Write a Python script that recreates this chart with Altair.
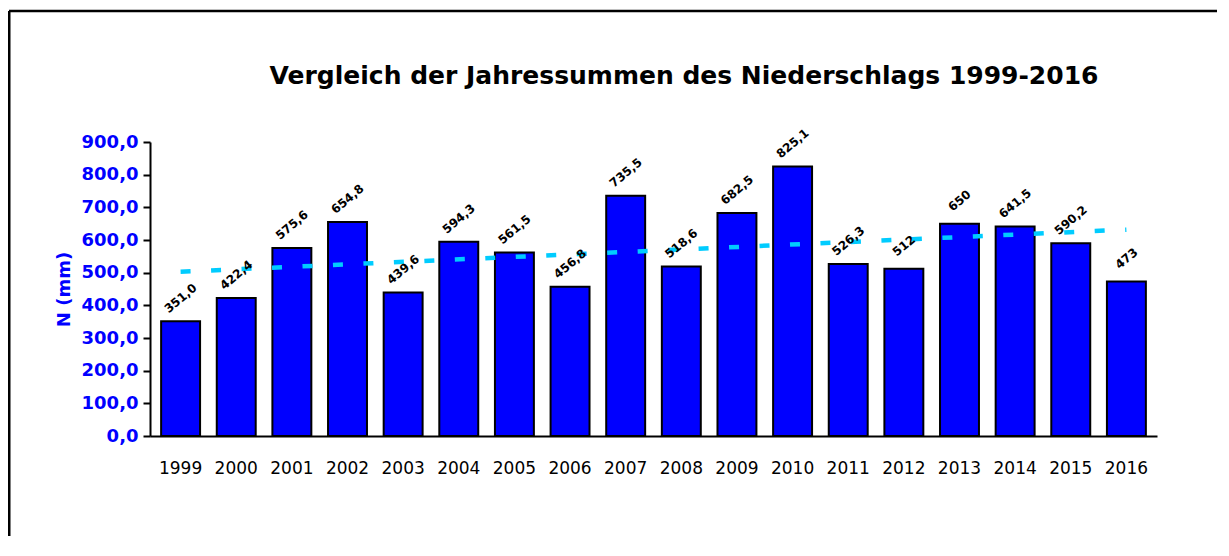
import altair as alt
import pandas as pd

years = [1999, 2000, 2001, 2002, 2003, 2004, 2005, 2006, 2007, 2008,
         2009, 2010, 2011, 2012, 2013, 2014, 2015, 2016]
values = [351.0, 422.4, 575.6, 654.8, 439.6, 594.3, 561.5, 456.8, 735.5, 518.6,
          682.5, 825.1, 526.3, 512.0, 650.0, 641.5, 590.2, 473.0]
labels = ["351,0", "422,4", "575,6", "654,8", "439,6", "594,3", "561,5", "456,8", "735,5",
          "518,6", "682,5", "825,1", "526,3", "512", "650", "641,5", "590,2", "473"]
y_ticks = [0, 100, 200, 300, 400, 500, 600, 700, 800, 900]

title_text = "Vergleich der Jahressummen des Niederschlags 1999-2016"
y_title = "N (mm)"

df = pd.DataFrame({"year": years, "value": values, "label": labels})
dummy = pd.DataFrame({"d": [0]})

BLUE = "#0000FF"
W, H = 1007, 294

x_enc = alt.X("year:O",
              scale=alt.Scale(paddingInner=0.3, paddingOuter=0.2),
              axis=alt.Axis(title=None, labelAngle=0, ticks=False,
                            domainColor="black", domainWidth=2,
                            labelFont="DejaVu Sans", labelFontSize=17,
                            labelColor="black", labelPadding=24))
y_enc = alt.Y("value:Q",
              scale=alt.Scale(domain=[0, 900], nice=False),
              axis=alt.Axis(title=y_title, values=y_ticks, labelOverlap=False,
                            labelExpr="replace(format(datum.value, '.1f'), '.', ',')",
                            grid=False, domainColor="black", domainWidth=2,
                            tickColor="black", tickWidth=2, tickSize=7,
                            labelFont="DejaVu Sans", labelFontSize=18,
                            labelFontWeight="bold", labelColor=BLUE, labelPadding=5,
                            titleFont="DejaVu Sans", titleFontSize=18,
                            titleFontWeight="bold", titleColor=BLUE, titlePadding=8))

base = alt.Chart(df)

bars = base.mark_bar(color=BLUE, stroke="black", strokeWidth=2).encode(x=x_enc, y=y_enc)

trend = base.transform_regression("year", "value").mark_line(
    color="#00CCFF", strokeWidth=4.5, strokeDash=[10, 20.5], strokeCap="butt"
).encode(x=x_enc, y=y_enc)

texts = base.mark_text(
    angle=320, align="center", baseline="middle", dx=14.8, dy=-17.6,
    font="DejaVu Sans", fontSize=12, fontWeight="bold", color="black"
).encode(x=x_enc, y=y_enc, text="label:N")

title = alt.Chart(dummy).mark_text(
    text=title_text, font="DejaVu Sans", fontSize=25, fontWeight="bold",
    align="center", baseline="alphabetic", color="black"
).encode(x=alt.value(534), y=alt.value(-58))

border_top = alt.Chart(dummy).mark_rule(color="black", strokeWidth=2.5).encode(
    x=alt.value(-141), x2=alt.value(1100), y=alt.value(-131))
border_left = alt.Chart(dummy).mark_rule(color="black", strokeWidth=3).encode(
    x=alt.value(-141), y=alt.value(-131), y2=alt.value(420))

chart = alt.layer(bars, trend, texts, title, border_top, border_left).properties(
    width=W, height=H,
    autosize=alt.AutoSizeParams(type="none"),
    padding={"left": 142, "top": 134, "right": 60, "bottom": 100},
).configure_view(stroke=None)

chart.save("out.html", embed_options={"renderer": "svg", "actions": False})
